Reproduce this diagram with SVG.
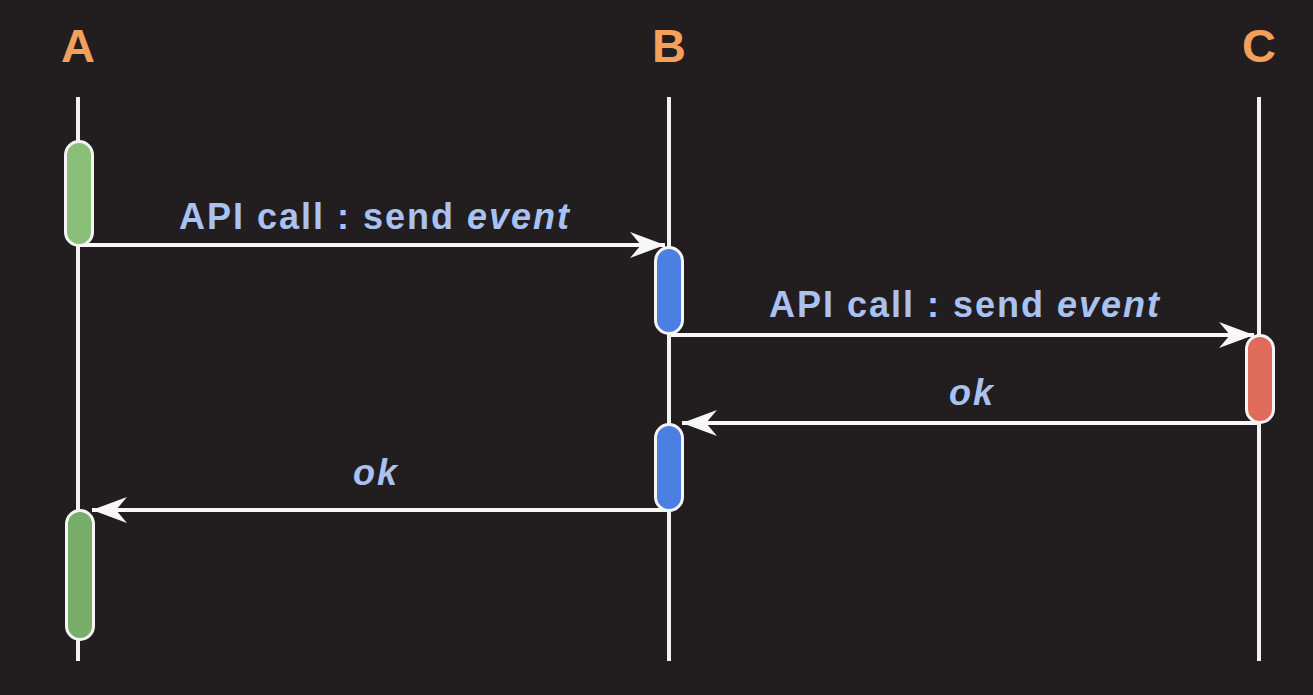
<svg xmlns="http://www.w3.org/2000/svg" width="1313" height="695" viewBox="0 0 1313 695">
<style>
.life{stroke:#f2f2f2;stroke-width:4;fill:none}
.msg{stroke:#f7f7f7;stroke-width:4;fill:none}
.act{stroke:#f4f4f4;stroke-width:3}
.head{font-family:"Liberation Sans",Arial,sans-serif;font-weight:bold;font-size:47px;fill:#f4a05a;text-anchor:middle}
.lbl{font-family:"Liberation Sans",Arial,sans-serif;font-weight:bold;font-size:36px;fill:#a9c2f2;text-anchor:middle;letter-spacing:2px}
</style>
<defs>
<marker id="ah" markerUnits="userSpaceOnUse" markerWidth="40" markerHeight="30" refX="36" refY="14" orient="auto">
<path d="M1,1 L36,14 L1,27 L12,14 Z" fill="#f7f7f7"/>
</marker>
</defs>
<rect width="1313" height="695" fill="#221e1f"/>
<g id="lifelines">
<line class="life" x1="78" y1="97" x2="78" y2="661"/>
<line class="life" x1="669" y1="97" x2="669" y2="661"/>
<line class="life" x1="1259" y1="97" x2="1259" y2="661"/>
</g>
<g id="A"><text class="head" x="78" y="62">A</text></g>
<g id="B"><text class="head" x="669" y="62">B</text></g>
<g id="C"><text class="head" x="1259" y="62">C</text></g>
<g id="connectors">
<line class="msg" x1="80" y1="245" x2="665" y2="245" marker-end="url(#ah)"/>
<line class="msg" x1="671" y1="335" x2="1254" y2="335" marker-end="url(#ah)"/>
<line class="msg" x1="1257" y1="423" x2="682" y2="423" marker-end="url(#ah)"/>
<line class="msg" x1="667" y1="510" x2="92" y2="510" marker-end="url(#ah)"/>
</g>
<g id="actA1"><rect class="act" x="65.5" y="141.5" width="27" height="104" rx="13.5" fill="#8bbf79"/></g>
<g id="actB1"><rect class="act" x="655.5" y="247.5" width="27" height="86" rx="13.5" fill="#4b80e2"/></g>
<g id="actC1"><rect class="act" x="1246.5" y="335.5" width="27" height="87" rx="13.5" fill="#df6b5b"/></g>
<g id="actB2"><rect class="act" x="655.5" y="424.5" width="27" height="86" rx="13.5" fill="#4b80e2"/></g>
<g id="actA2"><rect class="act" x="66.5" y="510.5" width="27" height="129" rx="13.5" fill="#78ad69"/></g>
<g id="labels">
<text class="lbl" x="375" y="229">API call : send <tspan font-style="italic">event</tspan></text>
<text class="lbl" x="965" y="317">API call : send <tspan font-style="italic">event</tspan></text>
<text class="lbl" x="972" y="405" font-style="italic">ok</text>
<text class="lbl" x="376" y="485" font-style="italic">ok</text>
</g>
</svg>
